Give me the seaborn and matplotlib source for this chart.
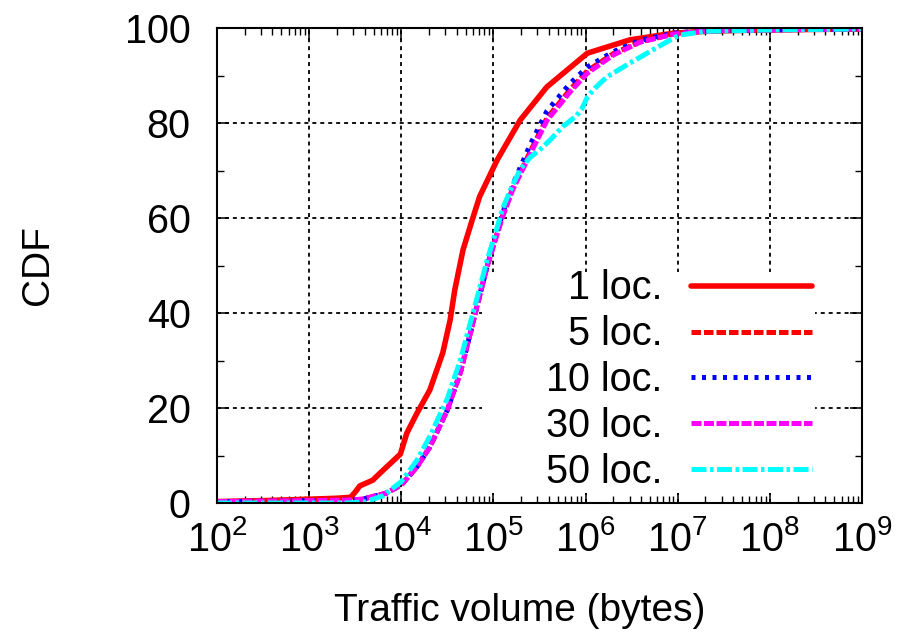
import numpy as np
import pandas as pd
import matplotlib
matplotlib.use("Agg")
import matplotlib.pyplot as plt
import seaborn as sns
from matplotlib.patches import Rectangle
from matplotlib.ticker import FixedLocator, MultipleLocator, LogLocator, NullFormatter

# ---------------- data (x given as log10 of bytes) ----------------
series_labels = ["1 loc.", "5 loc.", "10 loc.", "30 loc.", "50 loc."]

loc1_logx = [2.0, 2.5, 3.0, 3.3, 3.45, 3.5, 3.55, 3.69, 3.77, 3.99, 4.06, 4.17, 4.31, 4.45,
             4.53, 4.58, 4.67, 4.77, 4.85, 5.04, 5.29, 5.58, 6.02, 6.48, 6.95, 7.3, 7.7, 8.0, 8.5, 9.0]
loc1_cdf = [0.3, 0.5, 0.8, 1.0, 1.2, 2.3, 3.6, 4.8, 6.3, 10.3, 14.7, 18.9, 23.8, 31.6,
            38.5, 44.8, 53.3, 59.6, 64.5, 72.2, 80.6, 87.6, 94.7, 97.5, 98.9, 99.3, 99.5, 99.6, 99.7, 99.8]

grp_logx = [2.0, 2.5, 3.0, 3.4, 3.58, 3.84, 4.0, 4.17, 4.31, 4.5, 4.64, 4.75, 4.82, 4.93,
            5.04, 5.1, 5.21, 5.4, 5.58, 5.83, 6.02, 6.3, 6.59, 6.95, 7.2, 7.5, 8.0, 8.5, 9.0]
loc5_cdf = [0.3, 0.4, 0.5, 0.6, 0.8, 2.1, 3.8, 7.6, 11.8, 19.6, 27.4, 35.8, 41.3, 49.7,
            56.8, 60.5, 66.3, 74.0, 81.0, 87.0, 91.0, 94.6, 97.1, 98.7, 99.2, 99.5, 99.6, 99.7, 99.8]
loc10_cdf = [0.3, 0.4, 0.5, 0.6, 0.8, 2.1, 3.8, 7.6, 11.8, 19.6, 27.4, 35.8, 41.3, 49.7,
             57.0, 61.0, 67.0, 75.5, 82.5, 88.3, 91.8, 95.0, 97.4, 98.9, 99.3, 99.5, 99.6, 99.7, 99.8]
loc30_cdf = [0.3, 0.4, 0.5, 0.6, 0.8, 2.1, 3.8, 7.6, 11.8, 19.6, 27.4, 35.8, 41.3, 49.7,
             56.6, 60.3, 66.0, 73.5, 80.5, 86.5, 90.5, 94.3, 97.0, 98.7, 99.2, 99.5, 99.6, 99.7, 99.8]

loc50_logx = [2.0, 2.5, 3.0, 3.4, 3.6, 3.8, 4.0, 4.17, 4.31, 4.5, 4.64, 4.75, 4.82, 4.93, 5.04,
              5.1, 5.21, 5.3, 5.4, 5.5, 5.62, 5.75, 5.9, 5.96, 6.02, 6.1, 6.23, 6.48, 6.73, 6.92,
              7.02, 7.3, 8.0, 9.0]
loc50_cdf = [0.0, 0.0, 0.0, 0.0, 0.2, 1.5, 4.5, 9.0, 14.0, 22.0, 30.0, 38.0, 43.0, 51.0, 58.0,
             62.0, 67.0, 70.5, 72.8, 74.3, 76.5, 79.2, 81.5, 83.0, 85.5, 87.3, 89.7, 92.6, 95.4, 97.5,
             98.5, 99.3, 99.6, 99.8]

xtick_exps = [2, 3, 4, 5, 6, 7, 8, 9]
xtick_labels = ["$10^{%d}$" % e for e in xtick_exps]
ytick_values = [0, 20, 40, 60, 80, 100]

# ---------------- style ----------------
sns.set_style("ticks")
plt.rcParams["font.family"] = ["Liberation Sans", "DejaVu Sans"]
plt.rcParams["mathtext.fontset"] = "custom"
plt.rcParams["mathtext.rm"] = "Liberation Sans"
plt.rcParams["mathtext.it"] = "Liberation Sans:italic"
plt.rcParams["mathtext.bf"] = "Liberation Sans:bold"
plt.rcParams["text.color"] = "black"
plt.rcParams["axes.labelcolor"] = "black"
plt.rcParams["xtick.color"] = "black"
plt.rcParams["ytick.color"] = "black"

fig = plt.figure(figsize=(9.01, 6.39), dpi=100)
ax = fig.add_axes([217 / 901, 1 - 503 / 639, 645 / 901, 475 / 639])

styles = [
    dict(color="#ff0000", lw=4.0, ls="-"),
    dict(color="#ff0000", lw=3.6, ls=(0, (1.9, 0.6))),
    dict(color="#0000ff", lw=3.6, ls=(0, (0.8, 1.3))),
    dict(color="#ff00ff", lw=3.6, ls=(0, (2.0, 0.5))),
    dict(color="#00ffff", lw=3.6, ls=(0, (3.0, 0.7, 0.7, 0.7))),
]
xs = [loc1_logx, grp_logx, grp_logx, grp_logx, loc50_logx]
ys = [loc1_cdf, loc5_cdf, loc10_cdf, loc30_cdf, loc50_cdf]

handles = []
for lab, lx, cy, st in zip(series_labels, xs, ys, styles):
    df = pd.DataFrame({"x": np.power(10.0, lx), "y": cy})
    sns.lineplot(data=df, x="x", y="y", ax=ax, estimator=None, sort=False,
                 color=st["color"], linewidth=st["lw"], linestyle=st["ls"],
                 zorder=2, clip_on=True)
    handles.append(ax.get_lines()[-1])

ax.set_xscale("log")
ax.set_xlim(1e2, 1e9)
ax.set_ylim(0, 100)

ax.xaxis.set_major_locator(FixedLocator([10.0 ** e for e in xtick_exps]))
ax.set_xticklabels(xtick_labels)
ax.xaxis.set_minor_locator(LogLocator(base=10, subs=np.arange(2, 10), numticks=100))
ax.xaxis.set_minor_formatter(NullFormatter())
ax.set_yticks(ytick_values)
ax.set_yticklabels([str(v) for v in ytick_values])
ax.yaxis.set_minor_locator(MultipleLocator(10))

ax.tick_params(which="both", direction="in", top=True, right=True, colors="black",
               labelcolor="black")
ax.tick_params(which="major", length=8.5, width=1.1, labelsize=28.5)
ax.tick_params(which="minor", length=5, width=1.0)
ax.tick_params(axis="x", which="major", pad=12)
ax.tick_params(axis="y", which="major", pad=19)

for sp in ax.spines.values():
    sp.set_visible(True)
    sp.set_linewidth(1.5)
    sp.set_color("black")

ax.set_axisbelow(True)
ax.grid(True, which="major", color="black", linestyle=(0, (2.2, 2.2)), linewidth=1.3)

# key box (opaque background behind the legend)
ax.add_patch(Rectangle((0.411, 0.021), 0.516, 0.465, transform=ax.transAxes,
                       facecolor="white", edgecolor="none", zorder=1))

ax.set_xlabel("Traffic volume (bytes)", fontsize=28, color="black")
ax.set_ylabel("CDF", fontsize=28, color="black")
ax.xaxis.set_label_coords(0.47, -0.189)
ax.yaxis.set_label_coords(-0.249, 0.5)

leg = ax.legend(handles, series_labels, loc="lower right", bbox_to_anchor=(0.9225, 0.025),
                bbox_transform=ax.transAxes, frameon=False, markerfirst=False,
                handlelength=3.05, handletextpad=0.72, labelspacing=0.2,
                borderpad=0, borderaxespad=0, fontsize=28.5)
leg.set_zorder(5)
for t in leg.get_texts():
    t.set_color("black")

fig.savefig("out.png", dpi=100)
